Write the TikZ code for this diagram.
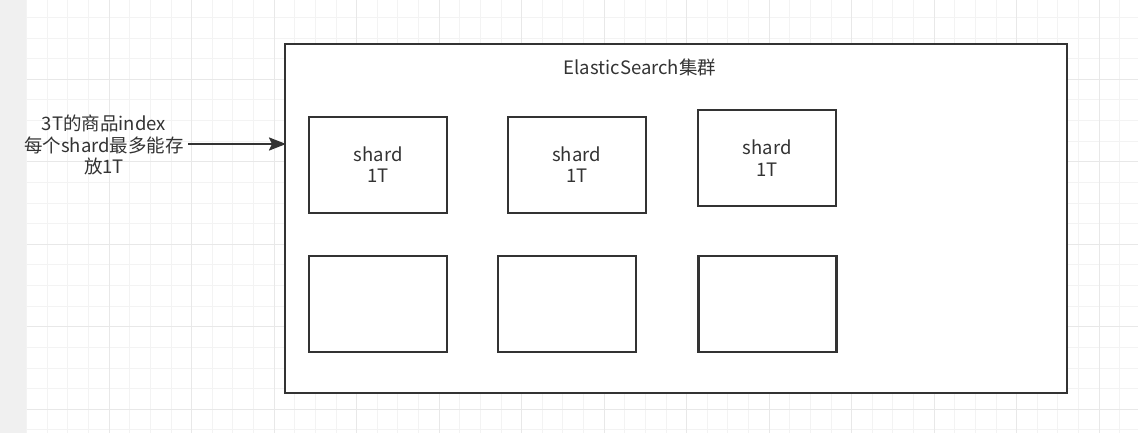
\documentclass[tikz,border=0pt]{standalone}
\usepackage{fontspec}
\setmainfont{Noto Sans CJK SC}
\usetikzlibrary{arrows.meta}
\definecolor{ink}{HTML}{333333}
\definecolor{gridminor}{HTML}{F3F3F3}
\definecolor{gridmajor}{HTML}{E8E8E8}
\definecolor{strip}{HTML}{F0F0F0}
\tikzset{
  boxstyle/.style={draw=ink, line width=2.3pt, fill=white, minimum width=138pt, minimum height=96pt, inner sep=0pt, align=center, text=ink, font=\fontsize{18.5}{21.7}\selectfont},
  outerstyle/.style={draw=ink, line width=2.3pt, fill=white, minimum width=782pt, minimum height=348.7pt, inner sep=0pt},
  txt/.style={text=ink, align=center, inner sep=0pt, font=\fontsize{18.5}{21.7}\selectfont},
  arr/.style={draw=ink, line width=2.6pt, -{Stealth[length=17pt,width=13pt,inset=3pt]}}
}
\begin{document}
\begin{tikzpicture}[x=1pt,y=-1pt]
\useasboundingbox (0,0) rectangle (1138,433);
\fill[white] (0,0) rectangle (1138,433);
\fill[strip] (0,0) rectangle (26.7,433);
% grid
\foreach \i in {0,...,54} {
  \pgfmathsetmacro{\xx}{26.7+\i*20.625}
  \draw[gridminor, line width=1pt] (\xx,0) -- (\xx,433);
}
\foreach \i in {0,...,21} {
  \pgfmathsetmacro{\yy}{-3.2+\i*20.625}
  \draw[gridminor, line width=1pt] (26.7,\yy) -- (1138,\yy);
}
\foreach \i in {1,...,13} {
  \pgfmathsetmacro{\xx}{26.7+\i*82.5}
  \draw[gridmajor, line width=1pt] (\xx,0) -- (\xx,433);
}
\foreach \i in {1,...,5} {
  \pgfmathsetmacro{\yy}{-3.2+\i*82.5}
  \draw[gridmajor, line width=1pt] (26.7,\yy) -- (1138,\yy);
}
% outer cluster
\node[outerstyle] (outer) at (675.7,218.35) {};
\node[txt] (title) at (640,67) {ElasticSearch集群};
% shards
\node[boxstyle] (b1) at (378.3,164.7) {shard\\1T};
\node[boxstyle] (b2) at (576.7,164.7) {shard\\1T};
\node[boxstyle] (b3) at (767.3,157.8) {shard\\1T};
\node[boxstyle] (b4) at (378.3,303.7) {};
\node[boxstyle] (b5) at (567.2,303.7) {};
\node[boxstyle] (b6) at (767.5,303.7) {};
% label and arrow
\node[txt] (lbl) at (104,145) {3T的商品index\\每个shard最多能存\\放1T};
\coordinate (a0) at (188,144);
\draw[arr, shorten >=-2.5pt] (a0) -- (outer.west |- a0);
\end{tikzpicture}
\end{document}
